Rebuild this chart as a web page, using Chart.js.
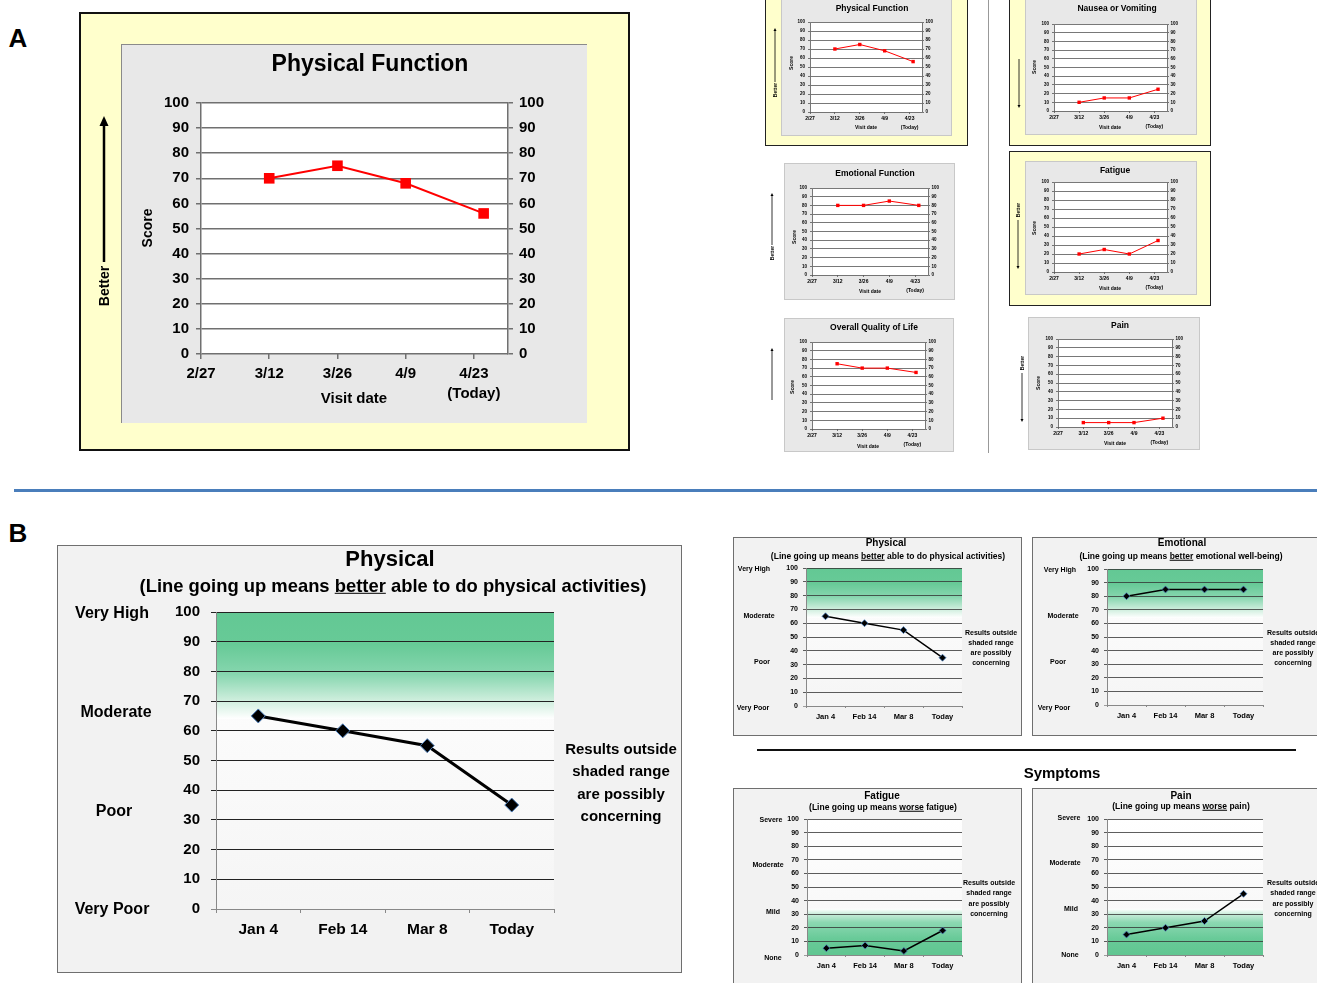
<!DOCTYPE html>
<html><head><meta charset="utf-8">
<script src="https://cdn.jsdelivr.net/npm/chart.js@4.4.1/dist/chart.umd.min.js"></script>
<style>
html,body{margin:0;padding:0;background:#fff;width:1317px;height:983px;overflow:hidden;position:relative;font-family:"Liberation Sans",Arial,sans-serif;}
.t{position:absolute;font-weight:bold;white-space:nowrap;transform:translate(-50%,-50%);color:#000;line-height:1;}
canvas{position:absolute;}
</style></head><body>
<script>
// ---------------- data ----------------
const dateTickLabels = ['2/27','3/12','3/26','4/9',['4/23','(Today)']];
const dateTickDays = [0,14,28,42,56];
const visitDays = [14,28,42,58];
const physicalFunction = [70,75,68,56];
const nauseaVomiting = [10,15,15,25];
const emotionalFunction = [80,80,85,80];
const fatigueA = [20,25,20,35];
const overallQoL = [75,70,70,65];
const painA = [5,5,5,10];

const visitLabelsB = ['Jan 4','Feb 14','Mar 8','Today'];
const physicalB = [65,60,55,35];
const emotionalB = [80,85,85,85];
const fatigueB = [5,7,3,18];
const painB = [15,20,25,45];
const levelsFunction = ['Very High','Moderate','Poor','Very Poor'];
const levelsSymptom = ['Severe','Moderate','Mild','None'];
const concernLines = ['Results outside','shaded range','are possibly','concerning'];

// ---------------- helpers ----------------
Chart.defaults.font.family = '"Liberation Sans", Arial, sans-serif';
Chart.defaults.color = '#000';

function div(x1,y1,x2,y2,style){const d=document.createElement('div');d.style.position='absolute';d.style.left=x1+'px';d.style.top=y1+'px';d.style.width=(x2-x1)+'px';d.style.height=(y2-y1)+'px';d.style.boxSizing='border-box';Object.assign(d.style,style||{});document.body.appendChild(d);return d;}
function txt(html,cx,cy,size,style){const d=document.createElement('div');d.className='t';d.style.left=cx+'px';d.style.top=cy+'px';d.style.fontSize=size+'px';Object.assign(d.style,style||{});d.innerHTML=html;document.body.appendChild(d);return d;}
function vtxt(html,cx,cy,size){return txt(html,cx,cy,size,{transform:'translate(-50%,-50%) rotate(-90deg)'});}
let svg='';
function arrow(x,y0,y1,w,hw,hl){const dir=y1<y0?-1:1;const yb=y1-dir*hl;
  svg+=`<line x1="${x}" y1="${y0}" x2="${x}" y2="${yb}" stroke="#000" stroke-width="${w}"/>`;
  svg+=`<polygon points="${x-hw},${yb} ${x+hw},${yb} ${x},${y1}" fill="#000"/>`;}
function canvasAt(x1,y1,x2,y2){const c=document.createElement('canvas');const w=x2-x1,h=y2-y1;c.width=w;c.height=h;c.style.left=x1+'px';c.style.top=y1+'px';c.style.width=w+'px';c.style.height=h+'px';document.body.appendChild(c);return c;}
function fixW(w){return s=>{s.width=w;s.paddingTop=0;s.paddingBottom=0;s.paddingLeft=0;s.paddingRight=0;};}
function fixH(h){return s=>{s.height=h;s.paddingTop=0;s.paddingBottom=0;s.paddingLeft=0;s.paddingRight=0;};}

const bandPlugin = {
  id:'band',
  beforeDraw(chart,args,o){
    const {ctx,chartArea:a}=chart; const y=chart.scales.y;
    ctx.save();
    if(o.bg){const g=ctx.createLinearGradient(0,a.top,0,a.bottom);g.addColorStop(0,o.bg[0]);g.addColorStop(1,o.bg[1]);ctx.fillStyle=g;ctx.fillRect(a.left,a.top,a.width,a.height);}
    if(o.stops){
      const p0=y.getPixelForValue(o.stops[0][0]), p1=y.getPixelForValue(o.stops[o.stops.length-1][0]);
      const g=ctx.createLinearGradient(0,p0,0,p1);
      o.stops.forEach(([v,c])=>g.addColorStop((y.getPixelForValue(v)-p0)/(p1-p0),c));
      ctx.fillStyle=g; ctx.fillRect(a.left,Math.min(p0,p1),a.width,Math.abs(p1-p0));
    }
    ctx.restore();
  }
};

function chartA(box,plot,values,st){
  const cv=canvasAt(box[0],box[1],box[2],box[3]);
  const yt={stepSize:10,autoSkip:false,font:{size:st.fy,weight:'bold'},color:'#000'};
  new Chart(cv,{type:'line',
    data:{datasets:[{data:visitDays.map((d,i)=>({x:d,y:values[i]})),borderColor:'#FF0000',backgroundColor:'#FF0000',borderWidth:st.lw,pointStyle:'rect',pointRadius:st.pr,pointBorderWidth:0,tension:0}]},
    options:{responsive:false,animation:false,events:[],
      layout:{padding:{top:plot[1]-box[1],left:0,right:0,bottom:0}},
      plugins:{legend:{display:false},tooltip:{enabled:false},band:{bg:['#fff','#fff']}},
      scales:{
        x:{type:'linear',min:0,max:63,afterBuildTicks:s=>{s.ticks=dateTickDays.map(v=>({value:v}));},
           ticks:{callback:v=>dateTickLabels[dateTickDays.indexOf(v)],autoSkip:false,maxRotation:0,minRotation:0,padding:st.xpad,font:{size:st.fx,weight:'bold',lineHeight:st.lhx},color:'#000'},
           grid:{drawOnChartArea:false,tickLength:st.tl,color:st.gc,lineWidth:st.gw},border:{display:false},afterFit:fixH(box[3]-plot[3])},
        y:{min:0,max:100,ticks:Object.assign({padding:st.ypad},yt),grid:{color:st.gc,lineWidth:st.gw,tickLength:st.tl},border:{color:st.gc,width:st.gw},afterFit:fixW(plot[0]-box[0])},
        y2:{position:'right',min:0,max:100,ticks:Object.assign({padding:st.y2pad},yt),grid:{drawOnChartArea:false,color:st.gc,lineWidth:st.gw,tickLength:st.tl},border:{color:st.gc,width:st.gw},afterFit:fixW(box[2]-plot[2])}
      }},
    plugins:[bandPlugin]});
}

const bandHigh=[[100,'rgb(99,200,148)'],[89,'rgb(103,202,151)'],[79,'rgb(135,214,175)'],[71,'rgb(200,236,217)'],[64,'rgb(255,255,255)']];
const bandLow=[[0,'rgb(96,198,145)'],[12,'rgb(104,202,152)'],[24,'rgb(140,216,178)'],[30,'rgb(200,236,217)'],[34,'rgb(255,255,255)']];

function chartB(box,plot,values,st,stops){
  const cv=canvasAt(box[0],box[1],box[2],box[3]);
  new Chart(cv,{type:'line',
    data:{labels:visitLabelsB,datasets:[{data:values,borderColor:'#000',borderWidth:st.lw,pointStyle:'rectRot',pointRadius:st.pr,pointBackgroundColor:'#000',pointBorderColor:'#4F81BD',pointBorderWidth:st.pbw,tension:0}]},
    options:{responsive:false,animation:false,events:[],
      layout:{padding:{top:plot[1]-box[1],left:0,right:box[2]-plot[2],bottom:0}},
      plugins:{legend:{display:false},tooltip:{enabled:false},band:{bg:['#ffffff','#f5f5f5'],stops:stops}},
      scales:{
        x:{type:'category',offset:true,ticks:{autoSkip:false,maxRotation:0,padding:st.xpad,font:{size:st.fx,weight:'bold'},color:'#000'},
           grid:{offset:true,drawOnChartArea:false,tickLength:st.tlx,color:'#888'},border:{color:'#888'},afterFit:fixH(box[3]-plot[3])},
        y:{min:0,max:100,ticks:{stepSize:10,autoSkip:false,padding:st.ypad,font:{size:st.fy,weight:'bold'},color:'#000'},
           grid:{color:c=>c.tick&&c.tick.value===0?'#888':st.gc,lineWidth:st.gw,tickLength:st.tl},border:{color:'#888'},afterFit:fixW(plot[0]-box[0])}
      }},
    plugins:[bandPlugin]});
}

// ---------------- Panel A ----------------
txt('A',18,38,26);
// big
div(79,12,630,451,{background:'#FFFFCC',border:'2px solid #111'});
div(121,44,587,423,{background:'#E8E8E8',borderTop:'1px solid #8a8a8a',borderLeft:'1px solid #8a8a8a'});
chartA([121,44,587,423],[201,103,508,354],physicalFunction,{fy:15,fx:15,lhx:1.33,tl:5,ypad:7,y2pad:6,xpase:5,xpad:5,gc:'#707070',gw:1.5,lw:2,pr:7.5});
txt('Physical Function',370,63,23);
vtxt('Score',147,228,14);
vtxt('Better',104,286,14);
arrow(104,262,116,2.5,4.5,10);
txt('Visit date',354,397,15);

// small charts
const smallA = {fy:4.5,fx:5,lhx:1.7,tl:2,ypad:3,y2pad:1.5,xpad:0.5,gc:'#555',gw:0.8,lw:1,pr:2.4};
div(988,0,989,453,{background:'#999'});
// Physical Function
div(765,-2,968,146,{background:'#FFFFCC',border:'1px solid #222'});
div(781,-2,952,136,{background:'#E8E8E8',border:'1px solid #c8c8c8'});
chartA([781,0,952,136],[810,22,922,112],physicalFunction,smallA);
txt('Physical Function',872,8,8.5);
vtxt('Score',791,63,5);
vtxt('Better',775,90,5);
arrow(775,82,28,0.8,1.5,3);
txt('Visit date',866,127,5);
// Nausea
div(1009,-2,1211,146,{background:'#FFFFCC',border:'1px solid #222'});
div(1025,-2,1197,135,{background:'#E8E8E8',border:'1px solid #c8c8c8'});
chartA([1025,0,1197,135],[1054,24,1167,111],nauseaVomiting,smallA);
txt('Nausea or Vomiting',1117,8,8.5);
vtxt('Score',1034,67,5);
arrow(1019,59,108,0.8,1.5,3);
txt('Visit date',1110,127,5);
// Emotional Function
div(784,163,955,300,{background:'#E8E8E8',border:'1px solid #c8c8c8'});
chartA([784,163,955,300],[812,188,928,275],emotionalFunction,smallA);
txt('Emotional Function',875,173,8.5);
vtxt('Score',794,237,5);
vtxt('Better',772,253,5);
arrow(772,245,193,0.8,1.5,3);
txt('Visit date',870,291,5);
// Fatigue
div(1009,151,1211,306,{background:'#FFFFCC',border:'1px solid #222'});
div(1025,161,1197,295,{background:'#E8E8E8',border:'1px solid #c8c8c8'});
chartA([1025,161,1197,295],[1054,182,1167,272],fatigueA,smallA);
txt('Fatigue',1115,170,8.5);
vtxt('Score',1034,228,5);
vtxt('Better',1018,210,5);
arrow(1018,220,269,0.8,1.5,3);
txt('Visit date',1110,288,5);
// Overall QoL
div(784,318,954,452,{background:'#E8E8E8',border:'1px solid #c8c8c8'});
chartA([784,318,954,452],[812,342,925,429],overallQoL,smallA);
txt('Overall Quality of Life',874,327,8.5);
vtxt('Score',792,387,5);
arrow(772,400,348,0.8,1.5,3);
txt('Visit date',868,446,5);
// Pain
div(1028,317,1200,450,{background:'#E8E8E8',border:'1px solid #c8c8c8'});
chartA([1028,317,1200,450],[1058,339,1172,427],painA,smallA);
txt('Pain',1120,325,8.5);
vtxt('Score',1038,383,5);
vtxt('Better',1022,363,5);
arrow(1022,373,422,0.8,1.5,3);
txt('Visit date',1115,443,5);

// separator
div(14,489,1317,492,{background:'#4A7EBB'});

// ---------------- Panel B ----------------
txt('B',18,533,26);
function panelB(box,plot,values,st,stops,title,sub,levels,levelPos,rightX,rightY,rightSp,f){
  div(box[0],box[1],box[2],box[3],{background:'#F2F2F2',border:'1px solid #6f6f6f'});
  chartB(box,plot,values,st,stops);
  txt(title,f.tx,f.ty,f.tf);
  txt(sub,f.sx,f.sy,f.sf);
  levels.forEach((l,i)=>txt(l,levelPos[i][0],levelPos[i][1],f.lf));
  concernLines.forEach((l,i)=>txt(l,rightX,rightY+i*rightSp,f.rf));
}

const bigB={fy:15,fx:15.5,tl:5,tlx:4,ypad:11,xpad:7,gc:'#222',gw:1,lw:3,pr:7,pbw:1};
const smB={fy:7,fx:7.5,tl:3,tlx:2,ypad:5,xpad:4,gc:'#333',gw:0.8,lw:1.5,pr:3.5,pbw:0.8};

panelB([57,545,682,973],[216,612,554,909],physicalB,bigB,bandHigh,'Physical',
  '(Line going up means <u>better</u> able to do physical activities)',levelsFunction,
  [[112,613],[116,712],[114,811],[112,909]],621,748,22.3,{tx:390,ty:559,tf:22,sx:393,sy:586,sf:18.4,lf:16,rf:15});

panelB([733,537,1022,736],[806,568,962,706],physicalB,smB,bandHigh,'Physical',
  '(Line going up means <u>better</u> able to do physical activities)',levelsFunction,
  [[754,568],[759,615],[762,661],[753,707]],991,632,10,{tx:886,ty:543,tf:10,sx:888,sy:556,sf:8.5,lf:7,rf:7});

panelB([1032,537,1322,736],[1107,569,1263,705],emotionalB,smB,bandHigh,'Emotional',
  '(Line going up means <u>better</u> emotional well-being)',levelsFunction,
  [[1060,569],[1063,615],[1058,661],[1054,707]],1293,632,10,{tx:1182,ty:543,tf:10,sx:1181,sy:556,sf:8.5,lf:7,rf:7});

div(757,749,1296,751,{background:'#111'});
txt('Symptoms',1062,772,15);

panelB([733,788,1022,990],[807,819,962,955],fatigueB,smB,bandLow,'Fatigue',
  '(Line going up means <u>worse</u> fatigue)',levelsSymptom,
  [[771,819],[768,864],[773,911],[773,957]],989,882,10.3,{tx:882,ty:796,tf:10,sx:883,sy:807,sf:8.5,lf:7,rf:7});

panelB([1032,788,1322,990],[1107,819,1263,955],painB,smB,bandLow,'Pain',
  '(Line going up means <u>worse</u> pain)',levelsSymptom,
  [[1069,817],[1065,862],[1071,908],[1070,954]],1293,882,10.3,{tx:1181,ty:796,tf:10,sx:1181,sy:806,sf:8.5,lf:7,rf:7});

// arrows overlay
const s=document.createElementNS('http://www.w3.org/2000/svg','svg');
s.setAttribute('width','1317');s.setAttribute('height','983');
s.style.position='absolute';s.style.left='0';s.style.top='0';s.style.pointerEvents='none';
s.innerHTML=svg;document.body.appendChild(s);
</script>
</body></html>
